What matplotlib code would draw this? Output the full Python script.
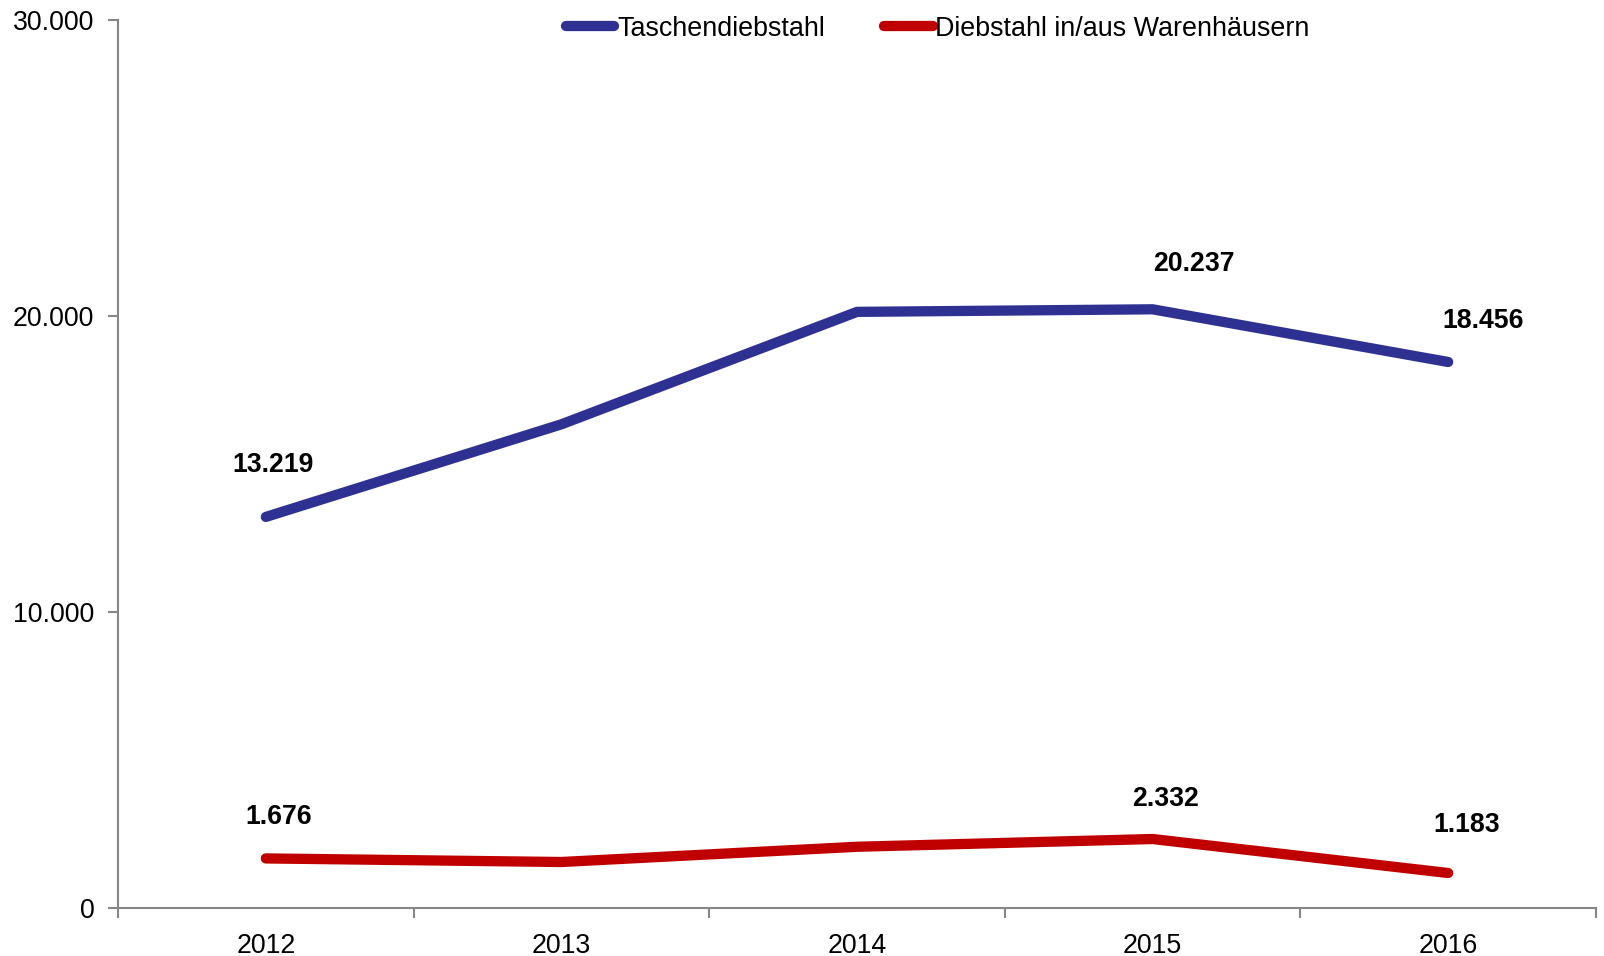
import matplotlib.pyplot as plt
import numpy as np
from matplotlib.ticker import FuncFormatter

years = ['2012', '2013', '2014', '2015', '2016']
taschen = [13219, 16350, 20150, 20237, 18456]
waren = [1676, 1555, 2070, 2332, 1183]
# which points carry a value label
label_idx = [0, 3, 4]
taschen_offsets = [(7, 52), (41, 45), (35, 41)]
waren_offsets = [(13, 41), (13, 40), (19, 48)]


def de_fmt(v, pos=None):
    return f'{int(v):,}'.replace(',', '.')


def theft_chart():
    plt.rcParams['font.family'] = ['Liberation Sans', 'DejaVu Sans']
    fig = plt.figure(figsize=(16.04, 9.56), dpi=100)
    ax = fig.add_axes([0.0736, 0.0502, 0.9214, 0.9284])

    x = np.arange(len(years))
    blue = '#2E3192'
    red = '#C00000'
    ax.plot(x, taschen, color=blue, lw=7.4, solid_capstyle='round',
            solid_joinstyle='round', label='Taschendiebstahl')
    ax.plot(x, waren, color=red, lw=7.4, solid_capstyle='round',
            solid_joinstyle='round', label='Diebstahl in/aus Warenhäusern')

    for series, offs in [(taschen, taschen_offsets), (waren, waren_offsets)]:
        for i, (dx, dy) in zip(label_idx, offs):
            ax.annotate(de_fmt(series[i]), (x[i], series[i]), xytext=(dx, dy),
                        textcoords='offset pixels', ha='center', va='center',
                        fontsize=19.2, fontweight='bold')

    ax.set_xlim(-0.5, len(years) - 0.5)
    ax.set_ylim(0, 30000)
    ax.set_yticks([0, 10000, 20000, 30000])
    ax.yaxis.set_major_formatter(FuncFormatter(de_fmt))

    ax.set_xticks(np.arange(-0.5, len(years)), labels=[''] * (len(years) + 1))
    ax.set_xticks(x, labels=years, minor=True)
    ax.tick_params(axis='x', which='major', direction='out', length=7,
                   width=1.5, color='#868686')
    ax.tick_params(axis='x', which='minor', length=0, pad=18, labelsize=19.3)
    ax.tick_params(axis='y', direction='out', length=7, width=1.5,
                   color='#868686', pad=10, labelsize=19.3)

    for s in ['top', 'right']:
        ax.spines[s].set_visible(False)
    for s in ['left', 'bottom']:
        ax.spines[s].set_color('#868686')
        ax.spines[s].set_linewidth(1.5)

    fig.legend(loc='center', bbox_to_anchor=(0.5846, 0.970), ncol=2,
               frameon=False, fontsize=19.4, handlelength=1.8,
               handletextpad=0.1, columnspacing=2.2)

    plt.savefig('out.png')


if __name__ == '__main__':
    theft_chart()
